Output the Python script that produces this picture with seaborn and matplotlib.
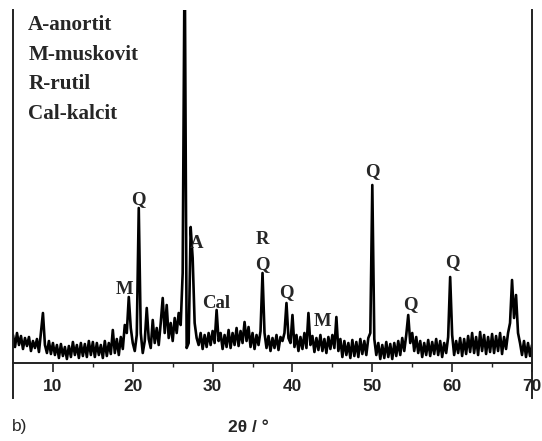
import numpy as np
import pandas as pd
import matplotlib
matplotlib.use("Agg")
import matplotlib.pyplot as plt
import seaborn as sns

# diffraction angle grid, 2theta in degrees (0.25 deg step, 5..70)
two_theta = np.arange(5.0, 70.001, 0.25)

# intensity (arbitrary units, 0 = axis line)
intensity = [
    28, 16, 30, 18, 27, 14, 25, 17, 26, 12, 22, 15, 24, 11, 30, 50, 18, 10, 22, 9,          # 5-9.75
    20, 8, 18, 5, 19, 7, 16, 4, 17, 6, 21, 8, 18, 5, 20, 7, 19, 6, 22, 8,                   # 10-14.75
    21, 6, 20, 8, 18, 5, 22, 7, 20, 9, 33, 10, 24, 8, 26, 14, 38, 30, 66, 35,               # 15-19.75
    20, 12, 28, 155, 30, 10, 22, 55, 24, 15, 43, 20, 35, 18, 40, 65, 30, 58, 25, 40,        # 20-24.75
    22, 45, 30, 50, 38, 90, 420, 15, 20, 136, 105, 40, 25, 18, 30, 14, 28, 16, 30, 18,      # 25-29.75
    32, 20, 53, 22, 30, 14, 28, 16, 33, 15, 30, 18, 35, 17, 32, 20, 41, 22, 36, 16,         # 30-34.75
    30, 14, 28, 18, 32, 90, 30, 15, 27, 12, 25, 15, 28, 13, 26, 22, 30, 60, 25, 20,         # 35-39.75
    48, 16, 28, 12, 26, 14, 30, 15, 50, 18, 27, 11, 25, 13, 28, 12, 24, 10, 26, 14,         # 40-44.75
    28, 15, 46, 12, 24, 6, 22, 8, 20, 5, 23, 7, 21, 6, 24, 9, 22, 8, 25, 30,                # 45-49.75
    178, 24, 8, 20, 4, 18, 5, 21, 6, 19, 4, 20, 7, 22, 8, 25, 12, 28, 48, 20,               # 50-54.75
    30, 12, 26, 10, 22, 6, 20, 8, 23, 7, 21, 9, 24, 8, 22, 6, 20, 10, 26, 86,               # 55-59.75
    28, 8, 22, 10, 25, 7, 24, 9, 27, 11, 30, 10, 26, 8, 31, 12, 28, 9, 26, 11,              # 60-64.75
    29, 10, 27, 12, 30, 9, 26, 14, 30, 40, 83, 45, 68, 30, 20, 8, 22, 6, 20, 7,             # 65-69.75
    18,                                                                                     # 70
]

# phase legend and peak labels
legend_lines = ["A-anortit", "M-muskovit", "R-rutil", "Cal-kalcit"]
peak_labels = ["Q", "A", "R", "Q", "M", "Cal", "Q", "M", "Q", "Q", "Q"]
label_x = [20.75, 28.0, 36.25, 36.25, 19.0, 30.4, 39.25, 43.75, 50.0, 54.75, 60.0]
label_y = [163, 120, 123, 98, 73, 60, 70, 41, 191, 58, 100]

df = pd.DataFrame({"two_theta": two_theta, "intensity": intensity})

sns.set_style("ticks")
plt.rcParams["font.family"] = ["Liberation Sans", "DejaVu Sans"]

fig = plt.figure(figsize=(5.42, 4.41), dpi=100)
ax = fig.add_axes([13 / 542, 1 - 398 / 441, (532 - 13) / 542, (398 - 10) / 441])

sns.lineplot(data=df, x="two_theta", y="intensity", ax=ax, color="black",
             linewidth=1.9, estimator=None, sort=False)

ax.set_xlim(5, 70)
ax.set_ylim(-35, 353)
ax.set_xlabel("")
ax.set_ylabel("")
ax.set_yticks([])
ax.set_xticks([10, 20, 30, 40, 50, 60, 70])
ax.set_xticks([15, 25, 35, 45, 55, 65], minor=True)
ax.spines["top"].set_visible(False)
ax.spines["bottom"].set_position(("data", 0))
for side in ["left", "right", "bottom"]:
    ax.spines[side].set_linewidth(1.4)
    ax.spines[side].set_color("#222222")
ax.tick_params(axis="x", which="major", direction="out", length=6.5, width=1.2, pad=5,
               labelsize=12.5, colors="#222222")
ax.tick_params(axis="x", which="minor", direction="out", length=3, width=1.0)
for lab in ax.get_xticklabels():
    lab.set_fontweight("bold")

serif = ["Liberation Serif", "DejaVu Serif"]
for i, line in enumerate(legend_lines):
    ax.text(6.9, 338 - i * 29.7, line, fontsize=15.2, fontweight="bold",
            family=serif, ha="left", va="center")
for txt, x, y in zip(peak_labels, label_x, label_y):
    ax.text(x, y, txt, fontsize=13.5, fontweight="bold", family=serif,
            ha="center", va="center")

fig.text(12 / 542, 1 - 427 / 441, "b)", fontsize=12.5, ha="left", va="center")
fig.text(248 / 542, 1 - 427 / 441, "2θ / °", fontsize=12.5, fontweight="bold",
         ha="center", va="center")

fig.savefig("out.png", dpi=100)
